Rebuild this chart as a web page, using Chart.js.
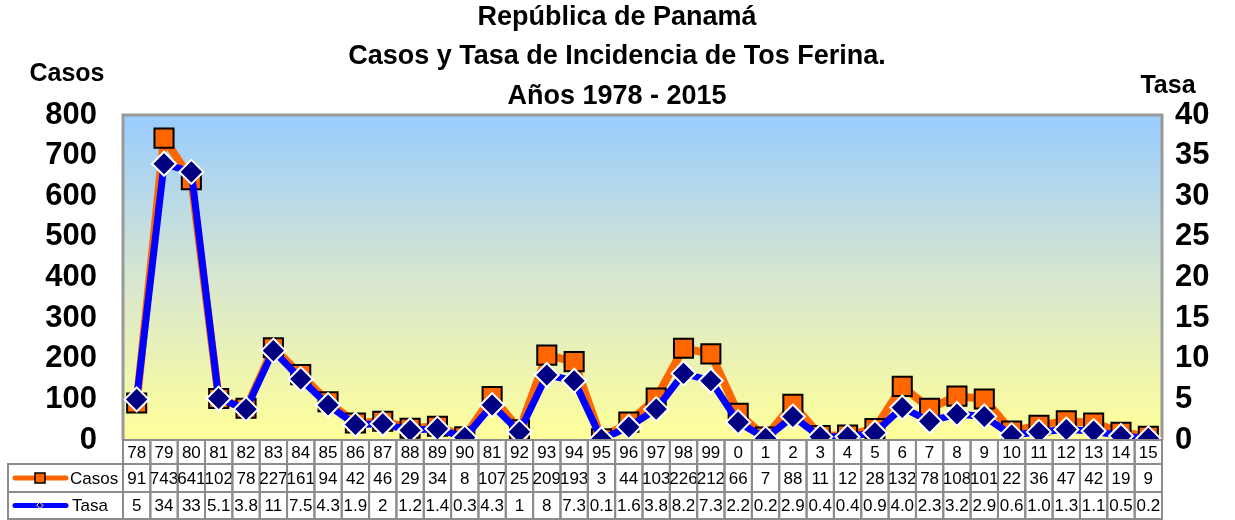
<!DOCTYPE html>
<html>
<head>
<meta charset="utf-8">
<script src="https://cdn.jsdelivr.net/npm/chart.js@4.4.1/dist/chart.umd.min.js"></script>
<style>
html, body { margin: 0; padding: 0; background: #fff; }
</style>
</head>
<body>
<canvas id="canvas" width="1235" height="520"></canvas>
<script>
// datos (1978 - 2015)
var years = ["78","79","80","81","82","83","84","85","86","87","88","89","90","81","92","93","94","95","96","97","98","99","0","1","2","3","4","5","6","7","8","9","10","11","12","13","14","15"];
var casos = [91,743,641,102,78,227,161,94,42,46,29,34,8,107,25,209,193,3,44,103,226,212,66,7,88,11,12,28,132,78,108,101,22,36,47,42,19,9];
var tasa = ["5","34","33","5.1","3.8","11","7.5","4.3","1.9","2","1.2","1.4","0.3","4.3","1","8","7.3","0.1","1.6","3.8","8.2","7.3","2.2","0.2","2.9","0.4","0.4","0.9","4.0","2.3","3.2","2.9","0.6","1.0","1.3","1.1","0.5","0.2"];
var casosTicks = [0,100,200,300,400,500,600,700,800];
var tasaTicks = [0,5,10,15,20,25,30,35,40];
var titulo = ["República de Panamá", "Casos y Tasa de Incidencia de Tos Ferina.", "Años 1978 - 2015"];

var ORANGE = "#FF6600", BLUE = "#0000FF", NAVY = "#000080", GRID = "#8c8c8c";
var FONT = "'Liberation Sans', Arial, sans-serif";

// fondo degradado del area de trazado
var fondoPlugin = {
    id: "fondo",
    beforeDraw: function(chart) {
        var a = chart.chartArea, ctx = chart.ctx;
        ctx.save();
        var g = ctx.createLinearGradient(0, a.top, 0, a.bottom);
        g.addColorStop(0, "#99CCFF");
        g.addColorStop(0.5, "#D6E6D0");
        g.addColorStop(1, "#FFFF99");
        ctx.fillStyle = g;
        ctx.fillRect(a.left, a.top, a.right - a.left, a.bottom - a.top);
        ctx.strokeStyle = "#999";
        ctx.lineWidth = 3;
        ctx.beginPath();
        ctx.moveTo(a.left, a.bottom);
        ctx.lineTo(a.left, a.top);
        ctx.lineTo(a.right, a.top);
        ctx.lineTo(a.right, a.bottom);
        ctx.stroke();

        // titulos
        ctx.fillStyle = "#000";
        ctx.textAlign = "center";
        ctx.textBaseline = "middle";
        ctx.font = "bold 27px " + FONT;
        var ys = [18, 57, 97];
        for (var i = 0; i < titulo.length; i++) ctx.fillText(titulo[i], 617, ys[i]);
        ctx.font = "bold 25px " + FONT;
        ctx.fillText("Casos", 67, 74);
        ctx.fillText("Tasa", 1168, 86);
        ctx.restore();
    }
};

// tabla de datos debajo del grafico
var tablaPlugin = {
    id: "tabla",
    afterDraw: function(chart) {
        var a = chart.chartArea, ctx = chart.ctx, x = chart.scales.x;
        var w = (a.right - a.left) / years.length;
        var rows = [[a.bottom, 464], [464, 492], [492, 519]];
        ctx.save();
        ctx.lineWidth = 2;
        ctx.strokeStyle = GRID;
        ctx.fillStyle = "#000";
        ctx.font = "17px " + FONT;
        ctx.textAlign = "center";
        ctx.textBaseline = "middle";
        for (var i = 0; i < years.length; i++) {
            var cx = x.getPixelForValue(i);
            var vals = [years[i], String(casos[i]), tasa[i]];
            for (var r = 0; r < 3; r++) {
                ctx.strokeRect(cx - w / 2, rows[r][0], w, rows[r][1] - rows[r][0]);
                ctx.fillText(vals[r], cx, (rows[r][0] + rows[r][1]) / 2 + 1);
            }
        }
        // leyenda a la izquierda
        var lx = 8;
        for (var r = 1; r < 3; r++) {
            ctx.strokeRect(lx, rows[r][0], a.left - lx, rows[r][1] - rows[r][0]);
        }
        var y1 = (rows[1][0] + rows[1][1]) / 2, y2 = (rows[2][0] + rows[2][1]) / 2;
        ctx.lineCap = "round";
        ctx.lineWidth = 5;
        ctx.strokeStyle = ORANGE;
        ctx.beginPath(); ctx.moveTo(15, y1); ctx.lineTo(66, y1); ctx.stroke();
        ctx.fillStyle = ORANGE;
        ctx.fillRect(35, y1 - 5, 10, 10);
        ctx.lineWidth = 1.5;
        ctx.strokeStyle = "#000";
        ctx.strokeRect(35, y1 - 5, 10, 10);
        ctx.lineWidth = 5;
        ctx.strokeStyle = BLUE;
        ctx.beginPath(); ctx.moveTo(15, y2); ctx.lineTo(66, y2); ctx.stroke();
        ctx.fillStyle = NAVY;
        ctx.strokeStyle = "#fff";
        ctx.lineWidth = 1;
        ctx.beginPath();
        ctx.moveTo(40, y2 - 3); ctx.lineTo(43, y2); ctx.lineTo(40, y2 + 3); ctx.lineTo(37, y2);
        ctx.closePath(); ctx.fill(); ctx.stroke();
        ctx.fillStyle = "#000";
        ctx.textAlign = "left";
        ctx.fillText("Casos", 70, y1 + 1);
        ctx.fillText("Tasa", 72, y2 + 1);
        ctx.restore();
    }
};

function sinPadding(scale) {
    scale.paddingTop = 0;
    scale.paddingBottom = 0;
}

var ctx = document.getElementById("canvas").getContext("2d");
var config = {
    type: "line",
    data: {
        labels: years,
        datasets: [{
            label: "Casos",
            data: casos,
            yAxisID: "y",
            order: 2,
            borderColor: ORANGE,
            borderWidth: 8,
            backgroundColor: ORANGE,
            pointStyle: "rect",
            pointRadius: 13.5,
            pointBorderColor: "#000",
            pointBorderWidth: 2,
            pointBackgroundColor: ORANGE,
            tension: 0
        }, {
            label: "Tasa",
            data: tasa.map(Number),
            yAxisID: "y1",
            order: 1,
            borderColor: BLUE,
            borderWidth: 7,
            backgroundColor: NAVY,
            pointStyle: "rectRot",
            pointRadius: 12,
            pointBorderColor: "#fff",
            pointBorderWidth: 2,
            pointBackgroundColor: NAVY,
            tension: 0
        }]
    },
    options: {
        responsive: false,
        animation: false,
        devicePixelRatio: 1,
        layout: { padding: { top: 115, bottom: 80, left: 0, right: 0 } },
        plugins: { legend: { display: false }, tooltip: { enabled: false } },
        scales: {
            x: { display: false, offset: true },
            y: {
                position: "left",
                min: 0, max: 800,
                afterBuildTicks: function(s) { s.ticks = casosTicks.map(function(v) { return { value: v }; }); },
                afterFit: function(s) { s.width = 123; sinPadding(s); },
                grid: { display: false },
                border: { display: false },
                ticks: { color: "#000", padding: 18, autoSkip: false, font: { family: FONT, size: 31, weight: "bold" } }
            },
            y1: {
                position: "right",
                min: 0, max: 40,
                afterBuildTicks: function(s) { s.ticks = tasaTicks.map(function(v) { return { value: v }; }); },
                afterFit: function(s) { s.width = 73; sinPadding(s); },
                grid: { display: false },
                border: { display: false },
                ticks: { color: "#000", padding: 5, autoSkip: false, font: { family: FONT, size: 31, weight: "bold" } }
            }
        }
    },
    plugins: [fondoPlugin, tablaPlugin]
};
var myChart = new Chart(ctx, config);
</script>
</body>
</html>
